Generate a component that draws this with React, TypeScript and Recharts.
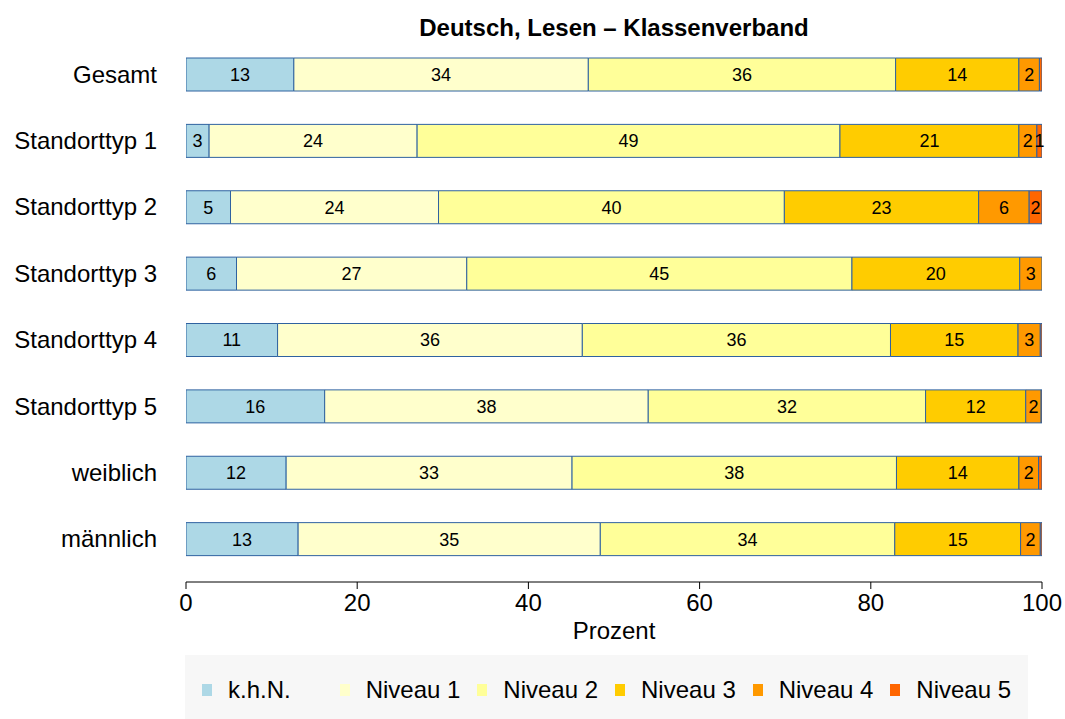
import { BarChart, Bar, XAxis, YAxis, LabelList } from 'recharts'

const categories = ['Gesamt', 'Standorttyp 1', 'Standorttyp 2', 'Standorttyp 3', 'Standorttyp 4', 'Standorttyp 5', 'weiblich', 'männlich']

const khn = [12.6, 2.7, 5.2, 5.9, 10.7, 16.2, 11.7, 13.1]
const niveau1 = [34.4, 24.3, 24.3, 26.9, 35.6, 37.8, 33.4, 35.3]
const niveau2 = [35.9, 49.4, 40.4, 45.0, 36.0, 32.4, 37.9, 34.4]
const niveau3 = [14.4, 20.9, 22.7, 19.6, 14.9, 11.7, 14.3, 14.7]
const niveau4 = [2.4, 2.1, 5.9, 2.6, 2.6, 1.8, 2.3, 2.3]
const niveau5 = [0.3, 0.6, 1.5, 0, 0.2, 0.1, 0.4, 0.2]

const xTicks = [0, 20, 40, 60, 80, 100]

const series = [
  { key: 'khn', name: 'k.h.N.', color: '#ADD8E6', values: khn },
  { key: 'n1', name: 'Niveau 1', color: '#FFFFCC', values: niveau1 },
  { key: 'n2', name: 'Niveau 2', color: '#FFFF99', values: niveau2 },
  { key: 'n3', name: 'Niveau 3', color: '#FFCC00', values: niveau3 },
  { key: 'n4', name: 'Niveau 4', color: '#FF9900', values: niveau4 },
  { key: 'n5', name: 'Niveau 5', color: '#FF6600', values: niveau5 },
]

const data = categories.map((name, i) => {
  const row: Record<string, string | number> = { name }
  series.forEach((s) => {
    row[s.key] = s.values[i]
  })
  return row
})

const FONT = '"Liberation Sans", Arial, Helvetica, sans-serif'

const fmtLabel = (v: any) => {
  const r = Math.round(Number(v))
  return r >= 1 ? String(r) : ''
}

export default function App() {
  return (
    <div style={{ position: 'absolute', left: 0, top: 0, width: 1065, height: 719, background: '#fff', fontFamily: FONT }}>
      <div
        style={{
          position: 'absolute',
          left: 186,
          width: 856,
          top: 14,
          textAlign: 'center',
          fontWeight: 'bold',
          fontSize: 24,
          color: '#000',
        }}
      >
        Deutsch, Lesen – Klassenverband
      </div>
      <BarChart
        width={1065}
        height={719}
        data={data}
        layout="vertical"
        margin={{ top: 41, right: 23, left: 0, bottom: 75 }}
        barSize={33}
        style={{ fontFamily: FONT }}
      >
        <XAxis
          type="number"
          domain={[0, 100]}
          ticks={xTicks}
          allowDataOverflow
          height={62}
          tickSize={7}
          tickMargin={5}
          tick={{ fontSize: 24, fill: '#000' }}
          axisLine={{ stroke: '#000' }}
          tickLine={{ stroke: '#000' }}
          label={{ value: 'Prozent', position: 'insideBottom', offset: 5, fontSize: 24, fill: '#000' }}
        />
        <YAxis
          type="category"
          dataKey="name"
          width={186}
          axisLine={false}
          tickLine={false}
          tickSize={0}
          tickMargin={29}
          padding={{ top: 0, bottom: 10 }}
          tick={{ fontSize: 24, fill: '#000' }}
        />
        {series.map((s) => (
          <Bar
            key={s.key}
            dataKey={s.key}
            name={s.name}
            stackId="a"
            fill={s.color}
            stroke="#2F62A0"
            strokeWidth={1}
            isAnimationActive={false}
          >
            <LabelList dataKey={s.key} position="center" formatter={fmtLabel} fill="#000" fontSize={18} />
          </Bar>
        ))}
      </BarChart>
      <div
        style={{
          position: 'absolute',
          left: 185,
          top: 655,
          width: 843,
          height: 64,
          background: '#F7F7F7',
          display: 'flex',
          alignItems: 'center',
          paddingLeft: 17,
          paddingTop: 6,
          boxSizing: 'border-box',
        }}
      >
        {series.map((s) => (
          <div key={s.key} style={{ width: 139, display: 'flex', alignItems: 'center' }}>
            <span style={{ display: 'inline-block', width: 10, height: 12, background: s.color, marginRight: 16 }} />
            <span style={{ fontSize: 24, color: '#000' }}>{s.name}</span>
          </div>
        ))}
      </div>
    </div>
  )
}
